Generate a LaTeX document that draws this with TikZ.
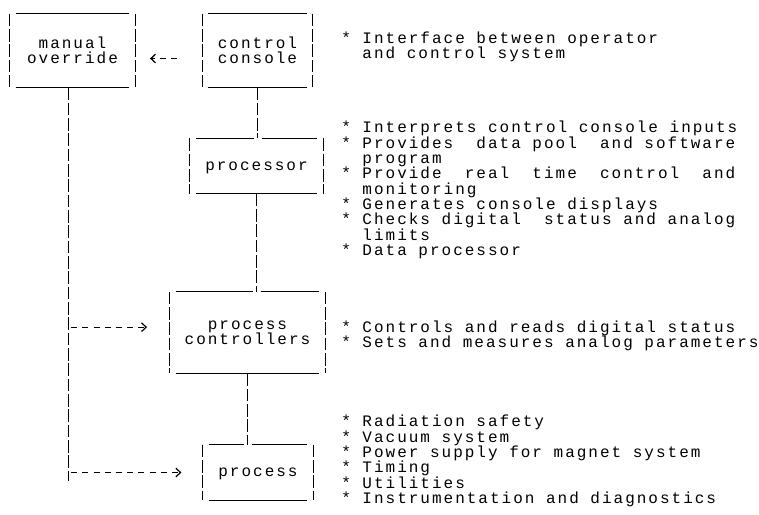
\documentclass[tikz,border=0pt]{standalone}
\usepackage{fontspec}
\newfontfamily\typer[LetterSpace=12.5]{Liberation Mono}
\usetikzlibrary{calc,arrows.meta}

\tikzset{
  typed/.style={font={\typer\fontsize{12}{11.5}\selectfont}},
  pipe/.style={line width=0.9pt, dash pattern={on 9.5pt off 2pt}},
  rule/.style={line width=0.9pt},
  tbox/.style 2 args={typed, inner sep=0pt, text depth=0pt, minimum width={#1*0.75pt}, minimum height={#2*0.75pt}, align=center},
  notes/.style={typed, anchor=west, inner sep=0pt, align=left},
  tyarrow/.style={line width=0.9pt, dash pattern={on 4.5pt off 3.9pt}, -{Straight Barb[length=3.5pt,width=6.5pt]}},
}

% sides and bottom of a typed box, top with a gap where a line comes in
\newcommand\typedbox[2][]{%
  \draw[pipe] (#2.north west) -- (#2.south west);
  \draw[pipe] (#2.north east) -- (#2.south east);
  \draw[rule] ($(#2.south west)+(6,0)$) -- ($(#2.south east)+(-6,0)$);
  \if\relax\detokenize{#1}\relax
    \draw[rule] ($(#2.north west)+(6,0)$) -- ($(#2.north east)+(-6,0)$);
  \else
    \draw[rule] ($(#2.north west)+(6,0)$) -- ($(#2.north -| #1)+(-4,0)$);
    \draw[rule] ($(#2.north -| #1)+(4,0)$) -- ($(#2.north east)+(-6,0)$);
  \fi
}

\begin{document}
\frenchspacing
\setlength{\lineskiplimit}{-100pt}
\begin{tikzpicture}[x=0.75pt,y=0.75pt,yscale=-1,xscale=1]
\path (0,0) rectangle (759,514);

% Boxes
\node[tbox={125}{73}] (manual) at (72.5,50.5) {manual\\override};
\node[tbox={110}{73}] (console) at (257.5,50.5) {control\\console};
\node[tbox={133}{55}] (processor) at (256.5,166) {processor};
\node[tbox={155}{81}] (ctrl) at (247.5,332.5) {process\\controllers};
\node[tbox={110}{55}] (proc) at (258,472.5) {process};

\typedbox{manual}
\typedbox{console}
\typedbox[console.south]{processor}
\typedbox[processor.south]{ctrl}
\typedbox[ctrl.south]{proc}

%Straight Lines
\draw[pipe] (console.south) -- (console.south |- processor.north);
\draw[pipe] (processor.south) -- (processor.south |- ctrl.north);
\draw[pipe] (ctrl.south) -- (ctrl.south |- proc.north);

% manual override line
\coordinate (tap) at ([xshift=-3pt]manual.south);
\coordinate (tapend) at ($(tap |- proc)+(0,8)$);
\draw[pipe] (tap) -- (tapend);

% dashed arrows (yshift runs against yscale=-1)
\coordinate (consout) at ([yshift=6pt]console.west);
\coordinate (ctrlin) at ([yshift=-4pt]ctrl.west);
\draw[tyarrow, shorten <=19pt, shorten >=11pt] (consout) -- (consout -| manual.east);
\draw[tyarrow, shorten <=2pt, shorten >=17pt] (ctrlin -| tap) -- (ctrlin);
\draw[tyarrow, shorten <=2pt, shorten >=16pt] (proc.west -| tap) -- (proc.west);

% Text Node
\node[notes] (consnote) at (341,47) {* Interface between operator\\\hphantom{**}and control system};
% Text Node
\node[notes] (procnote) at (341,190) {* Interprets control console inputs\\
* Provides~~data pool~~and software\\
\hphantom{**}program\\
* Provide~~real~~time~~control~~and\\
\hphantom{**}monitoring\\
* Generates console displays\\
* Checks digital~~status and analog\\
\hphantom{**}limits\\
* Data processor};
% Text Node
\node[notes] (ctrlnote) at (341,336) {* Controls and reads digital status\\
* Sets and measures analog parameters};
% Text Node
\node[notes] (plantnote) at (341,461) {* Radiation safety\\
* Vacuum system\\
* Power supply for magnet system\\
* Timing\\
* Utilities\\
* Instrumentation and diagnostics};

\end{tikzpicture}
\end{document}
